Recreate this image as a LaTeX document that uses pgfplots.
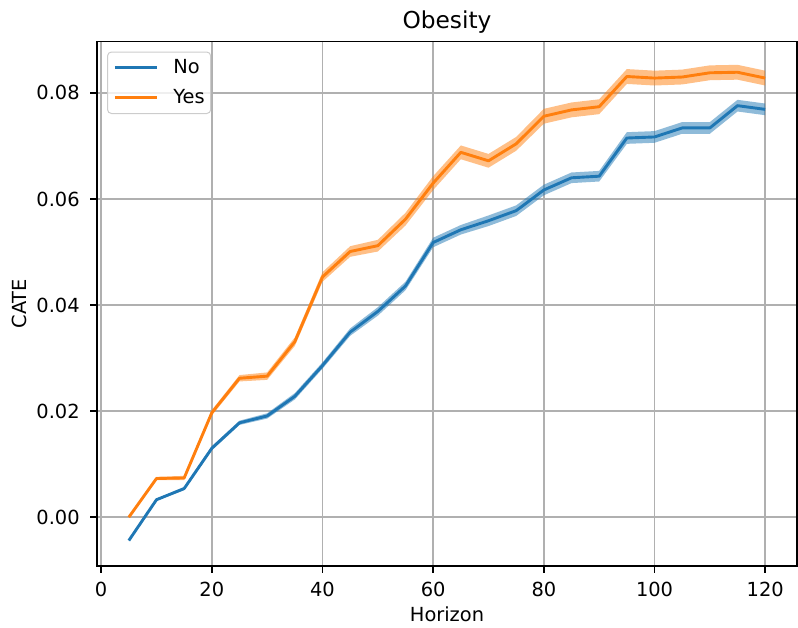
\documentclass[border=0pt]{standalone}
\usepackage{fontspec}
\setmainfont{DejaVu Sans}
\usepackage{pgfplots}
\usepackage{pgfplotstable}
\pgfplotsset{compat=1.18}
\usepgfplotslibrary{fillbetween}
\definecolor{tabblue}{HTML}{1F77B4}
\definecolor{taborange}{HTML}{FF7F0E}
\definecolor{gridgray}{HTML}{B0B0B0}
\definecolor{leggray}{HTML}{CCCCCC}

\pgfplotstableread{
x no nohw yes yeshw
5 -0.0044 0.0001 0.0000 0.0001
10 0.0033 0.0002 0.0073 0.0003
15 0.0054 0.0003 0.0074 0.0004
20 0.0130 0.0004 0.0197 0.0005
25 0.0178 0.0004 0.0262 0.0006
30 0.0191 0.0005 0.0266 0.0007
35 0.0228 0.0006 0.0331 0.0008
40 0.0286 0.0006 0.0453 0.0009
45 0.0349 0.0007 0.0501 0.0010
50 0.0388 0.0008 0.0512 0.0011
55 0.0436 0.0008 0.0562 0.0012
60 0.0518 0.0009 0.0630 0.0013
65 0.0542 0.0009 0.0688 0.0013
70 0.0559 0.0010 0.0672 0.0013
75 0.0578 0.0010 0.0704 0.0013
80 0.0617 0.0010 0.0756 0.0014
85 0.0640 0.0010 0.0768 0.0014
90 0.0643 0.0010 0.0774 0.0014
95 0.0715 0.0011 0.0831 0.0014
100 0.0717 0.0011 0.0828 0.0014
105 0.0734 0.0011 0.0830 0.0014
110 0.0734 0.0011 0.0838 0.0014
115 0.0776 0.0011 0.0839 0.0014
120 0.0769 0.0011 0.0828 0.0014
}\datatable

\begin{document}
\begin{tikzpicture}
\begin{axis}[
  name=ax,
  scale only axis,
  width=700pt, height=524.5pt,
  xmin=-0.75, xmax=125.75,
  ymin=-0.0092, ymax=0.0897,
  xtick={0,20,40,60,80,100,120},
  ytick={0,0.02,0.04,0.06,0.08},
  scaled y ticks=false,
  yticklabel style={/pgf/number format/fixed, /pgf/number format/fixed zerofill, /pgf/number format/precision=2, xshift=-7pt},
  xticklabel style={yshift=-6pt},
  /pgf/number format/assume math mode=true,
  xtick pos=bottom, ytick pos=left,
  tick align=outside,
  major tick length=6.8pt,
  every tick/.style={black, line width=1.55pt},
  axis line style={line width=1.55pt, black},
  grid=major,
  grid style={gridgray, line width=1.6pt},
  tick label style={font=\fontsize{19.4}{23}\selectfont},
  label style={font=\fontsize{19.4}{23}\selectfont},
  xlabel={Horizon}, ylabel={CATE},
  xlabel style={at={([yshift=-55pt]axis description cs:0.5,0)}, anchor=base},
  ylabel style={at={([xshift=-70pt]axis description cs:0,0.5)}, anchor=base, rotate=0},
  title={Obesity},
  title style={font=\fontsize{23.3}{28}\selectfont, at={([yshift=7.4pt]axis description cs:0.5,1)}, anchor=base},
  legend style={at={(0.0143,0.9809)}, anchor=north west,
    draw=leggray, line width=1pt, rounded corners=4pt, fill=white, fill opacity=0.8, text opacity=1,
    font=\fontsize{19.4}{23}\selectfont, inner xsep=6pt, inner ysep=7pt, row sep=12.5pt, column sep=15pt,
    nodes={inner sep=0pt, text height=14.1pt, text depth=3.4pt}},
  legend cell align=left,
  legend image code/.code={\draw[#1, line width=2.9pt] (0pt,0pt) -- (42pt,0pt);},
]
\addplot[name path=nohi, draw=none, forget plot] table[x=x, y expr=\thisrow{no}+\thisrow{nohw}] {\datatable};
\addplot[name path=nolo, draw=none, forget plot] table[x=x, y expr=\thisrow{no}-\thisrow{nohw}] {\datatable};
\addplot[tabblue, fill opacity=0.5, draw=none, forget plot] fill between[of=nohi and nolo];
\addplot[name path=yeshi, draw=none, forget plot] table[x=x, y expr=\thisrow{yes}+\thisrow{yeshw}] {\datatable};
\addplot[name path=yeslo, draw=none, forget plot] table[x=x, y expr=\thisrow{yes}-\thisrow{yeshw}] {\datatable};
\addplot[taborange, fill opacity=0.5, draw=none, forget plot] fill between[of=yeshi and yeslo];
\addplot[tabblue, line width=2.9pt, line join=round] table[x=x, y=no] {\datatable};
\addlegendentry{No}
\addplot[taborange, line width=2.9pt, line join=round] table[x=x, y=yes] {\datatable};
\addlegendentry{Yes}
\end{axis}
\path (ax.south west) ++(-97pt,-61pt) rectangle ++(798pt,627pt);
\end{tikzpicture}
\end{document}
